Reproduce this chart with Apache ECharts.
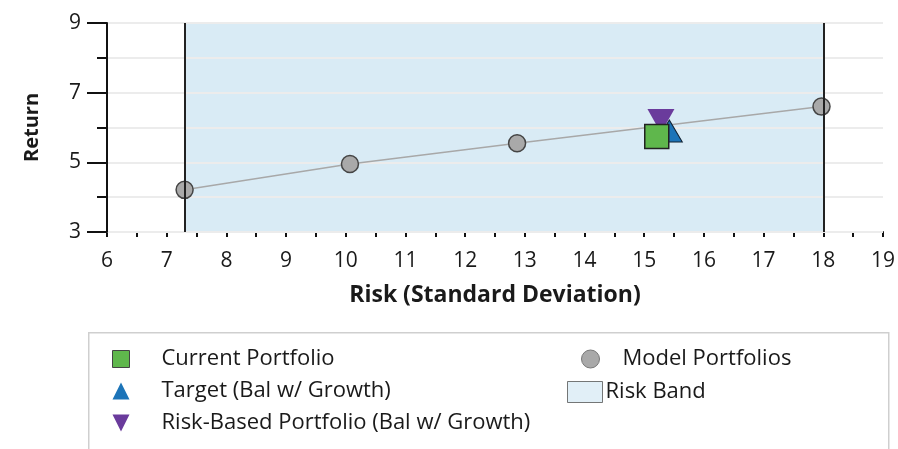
<!DOCTYPE html>
<html>
<head>
<meta charset="utf-8">
<script src="https://cdn.jsdelivr.net/npm/echarts@6/dist/echarts.min.js"></script>
<style>
  html, body { margin: 0; padding: 0; background: #fff; }
  #chart { width: 898px; height: 449px; }
</style>
</head>
<body>
<div id="chart"></div>
<script>
// Risk (standard deviation) vs. return
const modelRisk = [7.3, 10.07, 12.87, 17.97];
const modelReturn = [4.21, 4.95, 5.55, 6.6];
const currentPoint = [15.21, 5.74];
const targetPoint = [15.42, 5.9];
const riskBasedPoint = [15.28, 6.19];
const riskBand = [7.3, 18.0];

const xMin = 6, xMax = 19;
const yMin = 3, yMax = 9;

const names = {
  current: 'Current Portfolio',
  target: 'Target (Bal w/ Growth)',
  riskBased: 'Risk-Based Portfolio (Bal w/ Growth)',
  model: 'Model Portfolios',
  band: 'Risk Band'
};

const FONT = 'Open Sans';
const TXT = '#1a1a1a';
const FS = 21;
const LEG_FS = 22;

const chart = echarts.init(document.getElementById('chart'));

const option = {
  animation: false,
  textStyle: { fontFamily: FONT },
  grid: { left: 107, right: 14, top: 23, bottom: 217, containLabel: false },
  xAxis: {
    type: 'value', min: xMin, max: xMax, interval: 0.5,
    name: 'Risk (Standard Deviation)', nameLocation: 'middle', nameGap: 52,
    nameTextStyle: { fontFamily: FONT, fontWeight: 'bold', fontSize: 23, color: TXT },
    axisLine: { show: true, lineStyle: { color: '#111', width: 2 } },
    axisTick: { show: true, length: 5, lineStyle: { color: '#111', width: 2 } },
    axisLabel: {
      margin: 19, fontSize: FS, color: TXT, fontFamily: FONT,
      formatter: v => (Number.isInteger(v) ? String(v) : '')
    },
    splitLine: { show: false }
  },
  yAxis: [
    {
      type: 'value', min: yMin, max: yMax, interval: 1, z: 1.5,
      axisLine: { show: true, lineStyle: { color: '#111', width: 2 } },
      axisTick: { show: true, length: 10, lineStyle: { color: '#111', width: 2 } },
      axisLabel: { show: false },
      splitLine: { show: true, lineStyle: { color: '#ececec', width: 2 } }
    },
    {
      type: 'value', min: yMin, max: yMax, interval: 2, position: 'left',
      name: 'Return', nameLocation: 'middle', nameGap: 65, nameRotate: 90,
      nameTextStyle: { fontFamily: FONT, fontWeight: 'bold', fontSize: FS - 1, color: TXT },
      axisLine: { show: false },
      axisTick: { show: true, length: 20, lineStyle: { color: '#111', width: 2 } },
      axisLabel: { margin: 26, fontSize: FS, color: TXT, fontFamily: FONT },
      splitLine: { show: false }
    }
  ],
  legend: [
    {
      orient: 'vertical', left: 107, top: 343, itemGap: 10,
      itemWidth: 17, itemHeight: 17,
      textStyle: { fontSize: LEG_FS, color: TXT, fontFamily: FONT, padding: [0, 0, 0, 27] },
      selectedMode: false,
      data: [
        { name: names.current, icon: 'rect', itemStyle: { color: '#5fb74c', borderColor: '#444', borderWidth: 1 } },
        { name: names.target, icon: 'triangle', itemStyle: { color: '#1c74b8', borderWidth: 0 } },
        { name: names.riskBased, icon: 'path://M0,0 L10,0 L5,10 Z', itemStyle: { color: '#6a3b9c', borderWidth: 0 } }
      ]
    },
    {
      orient: 'vertical', left: 576, top: 343,
      itemWidth: 18, itemHeight: 18,
      textStyle: { fontSize: LEG_FS, color: TXT, fontFamily: FONT, padding: [0, 0, 0, 18] },
      selectedMode: false,
      data: [
        { name: names.model, icon: 'circle', itemStyle: { color: '#a9a9a9', borderColor: '#777', borderWidth: 1 } }
      ]
    },
    {
      orient: 'vertical', left: 562, top: 376,
      itemWidth: 35, itemHeight: 21,
      textStyle: { fontSize: LEG_FS, color: TXT, fontFamily: FONT, padding: [0, 0, 0, -2] },
      selectedMode: false,
      data: [
        { name: names.band, icon: 'rect', itemStyle: { color: '#d9ebf5', borderColor: '#555', borderWidth: 1 } }
      ]
    }
  ],
  graphic: [
    {
      type: 'rect', left: 88, top: 332, z: -1,
      shape: { width: 800, height: 130 },
      style: { fill: '#fff', stroke: '#cfcfcf', lineWidth: 1.5 }
    }
  ],
  series: [
    {
      name: names.band, type: 'scatter', data: [], z: 1,
      itemStyle: { color: '#d9ebf5' },
      markArea: {
        silent: true,
        itemStyle: { color: '#d9ebf5', borderWidth: 0, opacity: 1 },
        data: [[{ xAxis: riskBand[0], yAxis: yMin }, { xAxis: riskBand[1], yAxis: yMax }]]
      },
      markLine: {
        silent: true, symbol: 'none',
        label: { show: false },
        lineStyle: { color: '#222', width: 2, type: 'solid' },
        data: riskBand.map(x => ({ xAxis: x }))
      }
    },
    {
      name: names.model, type: 'line', z: 3,
      data: modelRisk.map((x, i) => [x, modelReturn[i]]),
      symbol: 'circle', symbolSize: 17,
      lineStyle: { color: '#a8a8a8', width: 1.5 },
      itemStyle: { color: '#a9a9a9', borderColor: '#444', borderWidth: 1.5, opacity: 1 }
    },
    {
      name: names.target, type: 'scatter', z: 4,
      data: [targetPoint], symbol: 'triangle', symbolSize: [26, 22],
      itemStyle: { color: '#1c74b8', borderColor: '#123', borderWidth: 1, opacity: 1 }
    },
    {
      name: names.riskBased, type: 'scatter', z: 5,
      data: [riskBasedPoint], symbol: 'triangle', symbolRotate: 180, symbolSize: [27, 24],
      itemStyle: { color: '#6a3b9c', opacity: 1 }
    },
    {
      name: names.current, type: 'scatter', z: 6,
      data: [currentPoint], symbol: 'rect', symbolSize: 24,
      itemStyle: { color: '#5fb74c', borderColor: '#222', borderWidth: 1.5, opacity: 1 }
    }
  ]
};

chart.setOption(option);
</script>
</body>
</html>
